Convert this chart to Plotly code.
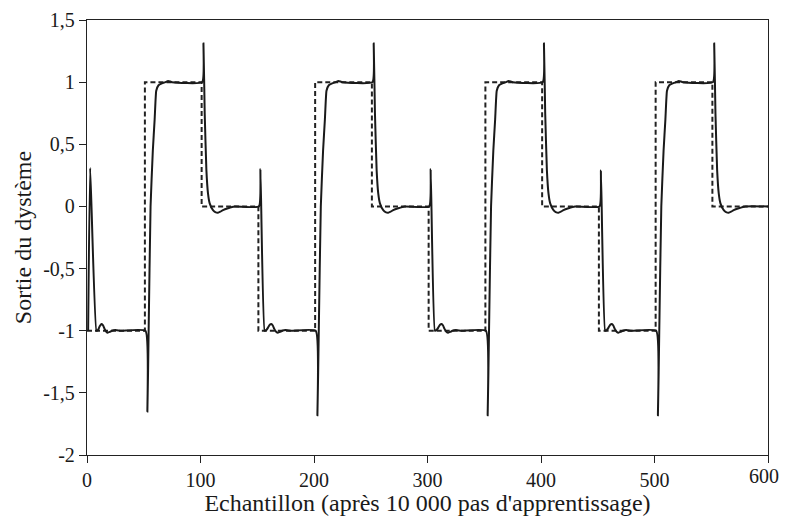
import plotly.graph_objects as go

# consigne (échelons) : valeur tenue à partir de chaque instant
ref_k = [0, 51, 101, 151, 201, 251, 301, 351, 401, 451, 501, 551, 600]
ref_v = [-1, 1, 0, -1, 1, 0, -1, 1, 0, -1, 1, 0, 0]

# sortie du système
out_k = [
    1, 2.8, 8.3, 9.7, 11.2, 12.7, 14, 15.5, 17, 18.3, 20, 22, 25, 30, 51.5,
    53.2, 54.3, 56, 58, 59.6, 61, 63, 66, 69, 71.5, 75, 101.5,
    102.6, 103.7, 105.2, 106.6, 108.1, 111, 113, 115.4, 117.5, 119.8, 124.2, 130, 151.5,
    152.8, 156.5, 158, 159.5, 161, 162.4, 163.7, 165, 166.6, 168.3, 170, 172, 175, 180, 201.5,
    203, 204.2, 206, 208, 209.6, 211, 213, 216, 219, 221.5, 225, 251.5,
    252.6, 253.7, 255.2, 256.6, 258.1, 261, 263, 265.4, 267.5, 269.8, 274.2, 280, 301.5,
    302.8, 306.5, 308, 309.5, 311, 312.4, 313.7, 315, 316.6, 318.3, 320, 322, 325, 330, 351.5,
    353, 354.2, 356, 358, 359.6, 361, 363, 366, 369, 371.5, 375, 401.5,
    402.6, 403.7, 405.2, 406.6, 408.1, 411, 413, 415.4, 417.5, 419.8, 424.2, 430, 451.5,
    452.8, 456.5, 458, 459.5, 461, 462.4, 463.7, 465, 466.6, 468.3, 470, 472, 475, 480, 501.5,
    503, 504.2, 506, 508, 509.6, 511, 513, 516, 519, 521.5, 525, 551.5,
    552.6, 553.7, 555.2, 556.6, 558.1, 561, 563, 565.4, 567.5, 569.8, 574.2, 580, 600,
]
out_v = [
    -1.0, 0.31, -1.0, -0.995, -0.965, -0.946, -0.955, -0.985, -1.008, -1.016, -1.01, -1.0, -0.995, -1.0, -1.0,
    -1.65, -1.0, 0.0, 0.45, 0.70, 0.93, 0.975, 0.99, 1.0, 1.01, 1.0, 1.0,
    1.31, 0.75, 0.29, 0.105, 0.025, -0.03, -0.045, -0.05, -0.042, -0.03, -0.015, 0.0, 0.0,
    0.30, -1.0, -0.995, -0.975, -0.952, -0.946, -0.958, -0.985, -1.008, -1.016, -1.01, -1.0, -0.995, -1.0, -1.0,
    -1.68, -1.0, 0.0, 0.45, 0.70, 0.93, 0.975, 0.99, 1.0, 1.01, 1.0, 1.0,
    1.31, 0.75, 0.29, 0.105, 0.025, -0.03, -0.045, -0.05, -0.042, -0.03, -0.015, 0.0, 0.0,
    0.30, -1.0, -0.995, -0.975, -0.952, -0.946, -0.958, -0.985, -1.008, -1.016, -1.01, -1.0, -0.995, -1.0, -1.0,
    -1.68, -1.0, 0.0, 0.45, 0.70, 0.93, 0.975, 0.99, 1.0, 1.01, 1.0, 1.0,
    1.31, 0.75, 0.29, 0.105, 0.025, -0.03, -0.045, -0.05, -0.042, -0.03, -0.015, 0.0, 0.0,
    0.29, -1.0, -0.995, -0.975, -0.952, -0.946, -0.958, -0.985, -1.008, -1.016, -1.01, -1.0, -0.995, -1.0, -1.0,
    -1.68, -1.0, 0.0, 0.45, 0.70, 0.93, 0.975, 0.99, 1.0, 1.01, 1.0, 1.0,
    1.31, 0.75, 0.29, 0.105, 0.025, -0.03, -0.045, -0.05, -0.042, -0.03, -0.015, 0.0, 0.0,
]

y_ticks = [1.5, 1, 0.5, 0, -0.5, -1, -1.5, -2]
y_labels = ["1,5", "1", "0,5", "0", "-0,5", "-1", "-1,5", "-2"]
x_ticks = [0, 100, 200, 300, 400, 500, 600]
x_labels = ["0", "100", "200", "300", "400", "500", ""]  # "600" posé en annotation (bord droit)

fig = go.Figure()
fig.add_trace(go.Scatter(x=ref_k, y=ref_v, mode="lines", line_shape="hv",
                         line=dict(color="#222", width=2, dash="5px,3px")))
fig.add_trace(go.Scatter(x=out_k, y=out_v, mode="lines", line_shape="spline",
                         line=dict(color="#1a1a1a", width=2, smoothing=0.4)))

axis_style = dict(showgrid=False, zeroline=False, showline=True, linecolor="#222",
                  linewidth=1.3, mirror=True, ticks="outside", ticklen=7,
                  tickwidth=1.2, tickcolor="#222", automargin=False)
fig.update_xaxes(range=[0, 600], tickvals=x_ticks, ticktext=x_labels,
                 title=dict(text="Echantillon (après 10 000 pas d'apprentissage)", standoff=6),
                 **axis_style)
fig.update_yaxes(range=[-2, 1.5], tickvals=y_ticks, ticktext=y_labels,
                 title=dict(text="Sortie du dystème", standoff=4), **axis_style)
fig.add_annotation(text="600", x=1, y=0, xref="paper", yref="paper",
                   xanchor="right", yanchor="top", xshift=13, yshift=-8,
                   showarrow=False, font=dict(size=20))
# la page ajoute 8 px de marge au body : figure réduite pour tenir sans défilement
fig.update_layout(
    width=780, height=508, showlegend=False,
    margin=dict(l=79, r=20, t=12, b=61),
    plot_bgcolor="white", paper_bgcolor="white",
    font=dict(family="Liberation Serif", size=20, color="#1a1a1a"),
)
fig.write_html("out.html")
